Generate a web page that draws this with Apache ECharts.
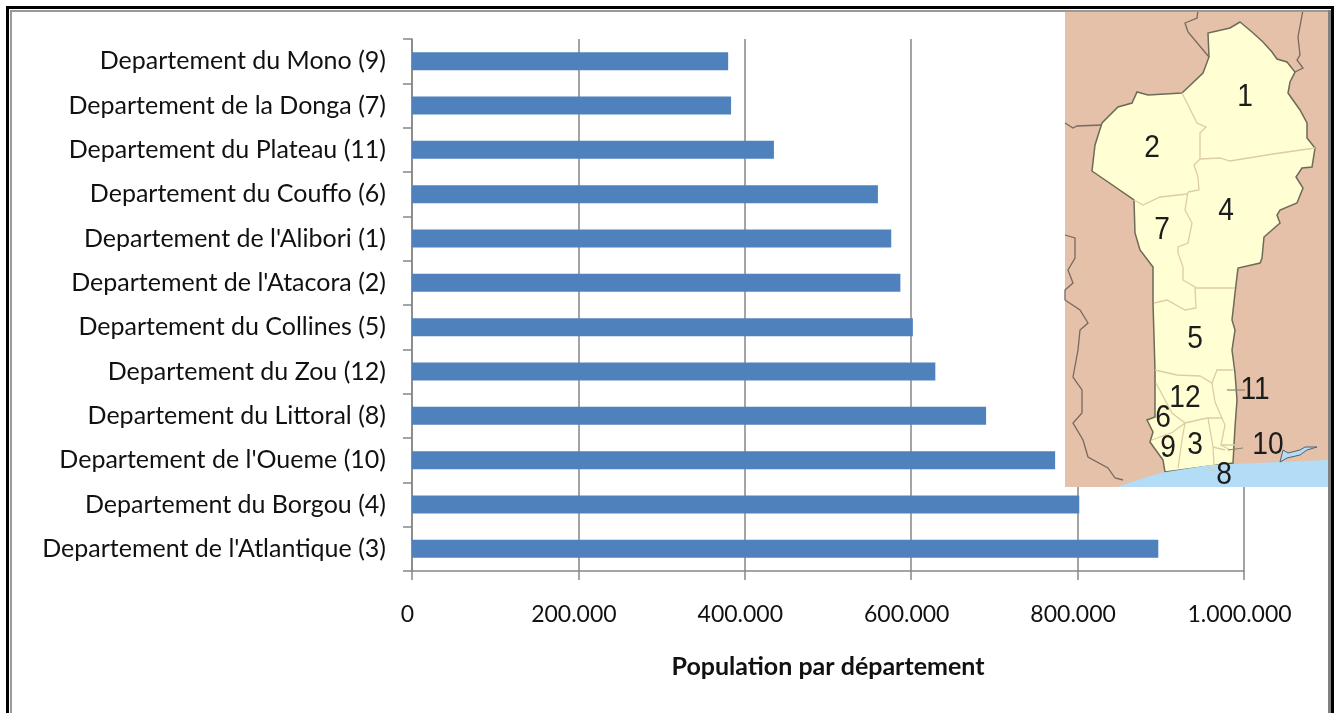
<!DOCTYPE html>
<html><head><meta charset="utf-8">
<style>html,body{margin:0;padding:0;background:#fff}#c{width:1336px;height:713px}</style>
<script src="https://cdn.jsdelivr.net/npm/echarts@6/dist/echarts.min.js"></script>
</head><body><div id="c"></div>
<script>
const categories = ["Departement du Mono (9)","Departement de la Donga (7)","Departement du Plateau (11)","Departement du Couffo (6)","Departement de l'Alibori (1)","Departement de l'Atacora (2)","Departement du Collines (5)","Departement du Zou (12)","Departement du Littoral (8)","Departement de l'Oueme (10)","Departement du Borgou (4)","Departement de l'Atlantique (3)"];
const population = [380000,383500,435000,560000,576000,587000,602000,629000,690000,773000,802000,897000];
const axisTitle = "Population par département";

// Inset map (decorative picture in the reference)
const beninOutline = [[1240,22],[1252,32],[1263,42],[1272,52],[1277,59],[1287,62],[1295,72],[1290,82],[1288,93],[1300,110],[1307,123],[1307,138],[1315,148],[1312,167],[1302,168],[1296,177],[1303,188],[1297,203],[1280,210],[1277,215],[1280,223],[1264,237],[1262,258],[1260,263],[1238,268],[1235,293],[1232,320],[1235,330],[1232,350],[1235,373],[1237,400],[1235,427],[1233,463],[1210,466],[1165,472],[1163,460],[1150,442],[1153,432],[1147,420],[1155,417],[1155,370],[1153,303],[1153,267],[1140,250],[1135,233],[1134,200],[1092,171],[1095,145],[1102,123],[1118,107],[1132,103],[1137,92],[1148,95],[1182,93],[1203,73],[1209,57],[1208,33],[1230,28]];
const seaArea = [[1117,487],[1135,481],[1160,473],[1210,465],[1280,462],[1328,460],[1328,487]];
const lagoon = [[1280,462],[1283,450],[1288,453],[1300,450],[1305,447],[1317,447],[1307,450],[1300,455],[1287,458]];
const neighbourBorders = [
 [[1198,10],[1197,18],[1185,23],[1188,32],[1209,57]],
 [[1303,10],[1298,37],[1300,55],[1297,60],[1303,68],[1295,72]],
 [[1065,123],[1073,128],[1077,126],[1102,125]],
 [[1065,235],[1075,238],[1075,258],[1068,270],[1073,283],[1065,290],[1065,300],[1080,310],[1088,323],[1080,330],[1078,350],[1073,377],[1082,390],[1082,413],[1073,423],[1083,440],[1088,457],[1108,468],[1115,478],[1123,480]]
];
const innerBorders = [
 [[1182,93],[1197,123],[1206,127],[1200,133],[1200,159]],
 [[1200,159],[1220,158],[1230,161],[1273,154],[1315,148]],
 [[1200,159],[1194,165],[1198,177],[1199,190],[1188,192]],
 [[1134,200],[1143,205],[1160,197],[1187,194]],
 [[1188,192],[1185,210],[1192,223],[1188,243],[1178,247],[1178,253],[1183,267],[1183,280],[1195,287],[1196,308],[1185,310],[1167,300],[1154,303]],
 [[1195,288],[1235,288]],
 [[1155,370],[1177,375],[1200,376],[1212,383],[1217,370],[1233,370]],
 [[1212,383],[1215,402],[1222,418],[1207,418],[1185,423]],
 [[1156,383],[1172,413],[1185,423]],
 [[1152,440],[1173,432],[1185,423],[1182,440],[1178,468]],
 [[1208,418],[1213,447],[1214,465]],
 [[1222,418],[1225,425],[1221,445],[1235,445]],
 [[1221,445],[1230,450]],
 [[1213,447],[1225,450]],
 [[1208,467],[1215,472]]
];
const leaderLines = [[[1227,390],[1245,390]],[[1228,450],[1243,448]]];
const mapNumbers = [["1",1245,97],["2",1152,148],["4",1226,211],["7",1162,230],["5",1195,339],["12",1185,398],["11",1255,390],["6",1163,418],["9",1168,448],["3",1195,445],["10",1268,445],["8",1224,475]];

const FONT = 'Lato';
const graphics = [
 {type:'rect',z:50,shape:{x:1065,y:10,width:264,height:477},style:{fill:'#E4C1A8'}},
 {type:'polygon',z:51,shape:{points:beninOutline},style:{fill:'#FFFFD3',stroke:'#6E6A58',lineWidth:1.5}},
 {type:'polygon',z:52,shape:{points:seaArea},style:{fill:'#B3DCF6'}},
 {type:'polygon',z:52,shape:{points:lagoon},style:{fill:'#B3DCF6',stroke:'#55606A',lineWidth:1}},
];
neighbourBorders.forEach(p=>graphics.push({type:'polyline',z:51,shape:{points:p},style:{fill:null,stroke:'#77695F',lineWidth:1.3}}));
innerBorders.forEach(p=>graphics.push({type:'polyline',z:52,shape:{points:p},style:{fill:null,stroke:'#DCCDA6',lineWidth:1.3}}));
leaderLines.forEach(p=>graphics.push({type:'polyline',z:53,shape:{points:p},style:{fill:null,stroke:'#8A8672',lineWidth:1.2}}));
mapNumbers.forEach(n=>graphics.push({type:'text',z:54,x:n[1],y:n[2],scaleX:0.88,style:{text:n[0],fill:'#1c1c1c',font:'32px "Liberation Sans"',align:'center',verticalAlign:'middle'}}));
// Frame
[[6,6,1328,3,'#000'],[6,6,3,707,'#000'],[1331,6,3,707,'#000'],[10,10,2,703,'#999'],[10,10,1320,2,'#999'],[1328,10,3,703,'#808080']].forEach(r=>
 graphics.push({type:'rect',z:60,shape:{x:r[0],y:r[1],width:r[2],height:r[3]},style:{fill:r[4]}}));

const chart = echarts.init(document.getElementById('c'),null,{renderer:'canvas'});
chart.setOption({
 animation:false,
 backgroundColor:'#fff',
 grid:{left:412,top:39,width:832,height:532,containLabel:false},
 xAxis:{type:'value',min:0,max:1000000,interval:200000,
  axisLine:{show:true,lineStyle:{color:'#868686',width:1.5}},
  axisTick:{show:true,length:9,lineStyle:{color:'#868686',width:1.5}},
  splitLine:{show:true,lineStyle:{color:'#868686',width:1.5}},
  axisLabel:{color:'#111',fontFamily:FONT,fontSize:23,margin:32,padding:[0,9,0,0],
   formatter:v=>String(v).replace(/\B(?=(\d{3})+$)/g,'.')},
  name:axisTitle,nameLocation:'middle',nameGap:83,
  nameTextStyle:{color:'#111',fontFamily:FONT,fontSize:25,fontWeight:'bold'}},
 yAxis:{type:'category',inverse:true,data:categories,
  axisLine:{show:true,lineStyle:{color:'#868686',width:1.5}},
  axisTick:{show:true,length:9,lineStyle:{color:'#868686',width:1.5}},
  splitLine:{show:false},
  axisLabel:{color:'#111',fontFamily:FONT,fontSize:25,margin:26}},
 series:[{type:'bar',data:population,barWidth:18,itemStyle:{color:'#4F81BD'},silent:true}],
 graphic:graphics
});
</script></body></html>
